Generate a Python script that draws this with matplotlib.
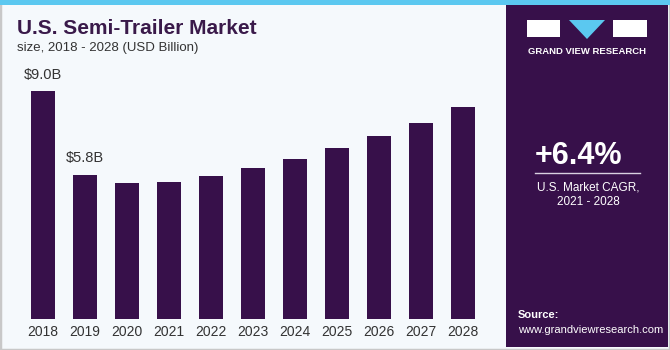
import numpy as np
import matplotlib.pyplot as plt
from matplotlib.patches import Rectangle, Polygon
from matplotlib.colors import LinearSegmentedColormap

# chart data (USD Billion)
years = ["2018", "2019", "2020", "2021", "2022", "2023",
         "2024", "2025", "2026", "2027", "2028"]
market_size = [9.0, 5.7, 5.38, 5.41, 5.64, 5.96, 6.34, 6.76, 7.23, 7.74, 8.37]
value_labels = {0: "$9.0B", 1: "$5.8B"}

W, H = 670, 350
purple = "#37104a"
fig = plt.figure(figsize=(W / 100, H / 100), dpi=100)
fig.patch.set_facecolor("#f5f9fc")
plt.rcParams["font.family"] = ["Liberation Sans", "DejaVu Sans"]


def fx(x):
    return x / W


def fy(y):
    return 1 - y / H


# frame, top strip, right panel
fig.add_artist(Rectangle((0, 0), 1, 1, transform=fig.transFigure,
                         fill=False, ec="#c8c8c8", lw=2.5))
fig.add_artist(Rectangle((0, fy(5)), 1, 5 / H, transform=fig.transFigure,
                         fc="#5bc8f0", ec="none"))
fig.add_artist(Rectangle((fx(506), fy(347)), fx(162), 342 / H,
                         transform=fig.transFigure, fc=purple, ec="none"))

# gradient at the bottom of the right panel
gax = fig.add_axes([fx(506), fy(347), fx(162), 64 / H])
cmap = LinearSegmentedColormap.from_list("g", [purple, "#4a5a9a", "#5ac8f0"])
grad = np.linspace(0, 1, 100).reshape(-1, 1)
gax.imshow(grad, aspect="auto", cmap=cmap, origin="upper", extent=[0, 1, 0, 1])
for k in np.linspace(0.05, 0.95, 14):
    gax.plot([k, k + 0.08], [0, 0.9], color="white", alpha=0.12, lw=0.6)
for k in np.linspace(0.05, 0.85, 8):
    gax.plot([0, 1], [k, k + 0.05], color="white", alpha=0.12, lw=0.6)
gax.set_xlim(0, 1)
gax.set_ylim(0, 1)
gax.axis("off")

# logo
fig.add_artist(Rectangle((fx(527), fy(37)), fx(33), 17 / H,
                         transform=fig.transFigure, fc="white", ec="none"))
fig.add_artist(Rectangle((fx(613), fy(37)), fx(34), 17 / H,
                         transform=fig.transFigure, fc="white", ec="none"))
fig.add_artist(Polygon([(fx(569), fy(20)), (fx(605), fy(20)), (fx(587), fy(39))],
                       transform=fig.transFigure, fc="#5bc8f0", ec="none"))
fig.text(fx(587), fy(51), "GRAND VIEW RESEARCH", color="white", fontsize=6.8,
         fontweight="bold", ha="center", va="center")

# CAGR box
fig.text(fx(579), fy(156), "+6.4%", color="white", fontsize=22,
         fontweight="bold", ha="center", va="center")
fig.add_artist(plt.Line2D([fx(535), fx(640)], [fy(173), fy(173)],
                          transform=fig.transFigure, color="#d8d0e0", lw=1))
fig.text(fx(588), fy(187), "U.S. Market CAGR,", color="white", fontsize=8.5,
         ha="center", va="center")
fig.text(fx(588), fy(202), "2021 - 2028", color="white", fontsize=8.5,
         ha="center", va="center")

# source
fig.text(fx(518), fy(315), "Source:", color="white", fontsize=8,
         fontweight="bold", ha="left", va="center")
fig.text(fx(518), fy(330), "www.grandviewresearch.com", color="white",
         fontsize=8, ha="left", va="center")

# titles
fig.text(fx(17), fy(29), "U.S. Semi-Trailer Market", color="#3a1a4a",
         fontsize=15, fontweight="bold", ha="left", va="center")
fig.text(fx(17), fy(48), "size, 2018 - 2028 (USD Billion)", color="#333333",
         fontsize=9.5, ha="left", va="center")

# bars
ax = fig.add_axes([fx(22), fy(319), fx(462), 259 / H])
ax.set_facecolor("none")
x = np.arange(len(years))
ax.bar(x, market_size, width=0.57, color=purple)
for i, txt in value_labels.items():
    ax.annotate(txt, (x[i], market_size[i]), xytext=(0, 7),
                textcoords="offset points", ha="center", va="bottom",
                fontsize=10.5, color="#333333")
ax.set_xticks(x)
ax.set_xticklabels(years, fontsize=10, color="#333333")
ax.tick_params(axis="x", length=0, pad=4)
ax.set_yticks([])
ax.set_xlim(-0.5, len(years) - 0.5)
ax.set_ylim(0, 259 / 25.3)
for s in ax.spines.values():
    s.set_visible(False)

fig.savefig("out.png", dpi=100, facecolor=fig.get_facecolor())
